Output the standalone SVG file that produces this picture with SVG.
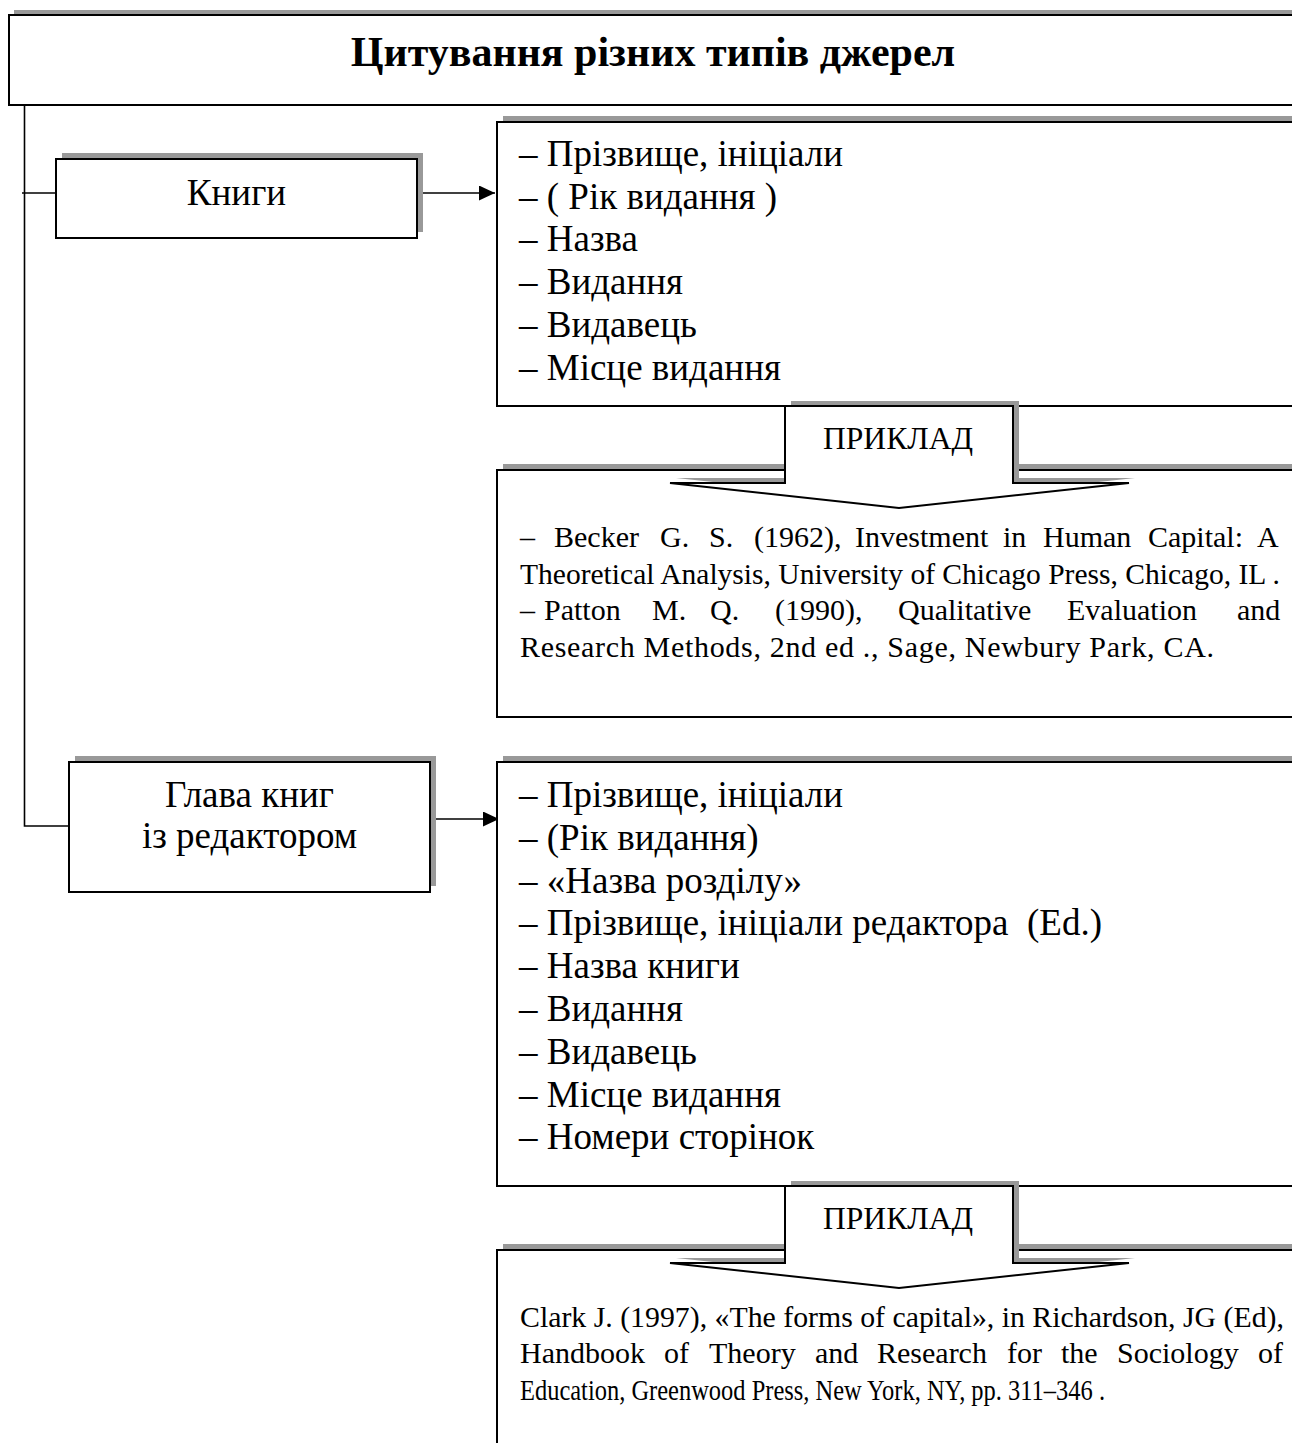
<svg xmlns="http://www.w3.org/2000/svg" width="1292" height="1443" viewBox="0 0 1292 1443">
<style>
.bg{fill:#fff}
.box{fill:#fff;stroke:#000;stroke-width:2}
.sh{fill:#999}
.ln{fill:none;stroke:#000;stroke-width:1.6}
.t{font-family:"Liberation Serif","Times New Roman",serif;fill:#000}
.ttl{font-size:42px;font-weight:bold;text-anchor:middle}
.nd{font-size:37px;text-anchor:middle}
.li{font-size:37px}
.ex{font-size:30px}
.pr{font-size:31px;text-anchor:middle}
</style>
<defs>
<marker id="ah" markerWidth="16" markerHeight="15" refX="16" refY="7.5" orient="auto" markerUnits="userSpaceOnUse"><path d="M0,0 L16,7.5 L0,15 Z" fill="#000"/></marker>
<path id="callout" d="M785,406 L1013,406 L1013,483 L1129,483 L899,508 L670,483 L785,483 Z"/>
</defs>
<rect class="bg" x="0" y="0" width="1292" height="1443"/>

<g id="title">
<rect class="sh" x="14" y="10" width="1300" height="90"/>
<rect class="box" x="9" y="15" width="1300" height="90"/>
<text class="t ttl" x="653" y="66">Цитування різних типів джерел</text>
</g>

<g id="connectors">
<polyline class="ln" points="24.5,105 24.5,826 69,826"/>
<line class="ln" x1="22" y1="193" x2="56" y2="193"/>
<line class="ln" x1="417" y1="193" x2="495" y2="193" stroke-width="2" marker-end="url(#ah)"/>
<line class="ln" x1="430" y1="819" x2="499" y2="819" stroke-width="2" marker-end="url(#ah)"/>
</g>

<g id="node-books">
<rect class="sh" x="62" y="153" width="361" height="79"/>
<rect class="box" x="56" y="159" width="361" height="79"/>
<text class="t nd" x="236.5" y="205">Книги</text>
</g>

<g id="node-chapter">
<rect class="sh" x="75" y="756" width="361" height="130"/>
<rect class="box" x="69" y="762" width="361" height="130"/>
<text class="t nd" x="249.5" y="807">Глава книг</text>
<text class="t nd" x="249.5" y="848">із редактором</text>
</g>

<g id="list-books">
<rect class="sh" x="503" y="116" width="810" height="284"/>
<rect class="box" x="497" y="122" width="810" height="284"/>
<text class="t li" x="519" y="166">– Прізвище, ініціали</text>
<text class="t li" x="519" y="208.7">– ( Рік видання )</text>
<text class="t li" x="519" y="251.4">– Назва</text>
<text class="t li" x="519" y="294.1">– Видання</text>
<text class="t li" x="519" y="336.8">– Видавець</text>
<text class="t li" x="519" y="379.5">– Місце видання</text>
</g>

<g id="example-books">
<rect class="sh" x="503" y="464" width="810" height="247"/>
<rect class="box" x="497" y="470" width="810" height="247"/>
<text class="t ex" y="547"><tspan x="520">–</tspan><tspan x="554">Becker</tspan><tspan x="660">G.</tspan><tspan x="709">S.</tspan><tspan x="754">(1962),</tspan><tspan x="855">Investment</tspan><tspan x="1003">in</tspan><tspan x="1043">Human</tspan><tspan x="1148">Capital:</tspan><tspan x="1257">A</tspan></text>
<text class="t ex" x="520" y="583.5" textLength="760" lengthAdjust="spacingAndGlyphs">Theoretical Analysis, University of Chicago Press, Chicago, IL .</text>
<text class="t ex" y="620"><tspan x="520">–</tspan><tspan x="544">Patton</tspan><tspan x="652">M.</tspan><tspan x="710">Q.</tspan><tspan x="775">(1990),</tspan><tspan x="898">Qualitative</tspan><tspan x="1067">Evaluation</tspan><tspan x="1237">and</tspan></text>
<text class="t ex" x="520" y="656.5" textLength="694" lengthAdjust="spacing">Research Methods, 2nd ed ., Sage, Newbury Park, CA.</text>
</g>

<g id="callout-books">
<use href="#callout" class="sh" transform="translate(6,-5)"/>
<use href="#callout" class="box"/>
<text class="t pr" x="898" y="449" textLength="150" lengthAdjust="spacingAndGlyphs">ПРИКЛАД</text>
</g>

<g id="list-chapter">
<rect class="sh" x="503" y="756" width="810" height="424"/>
<rect class="box" x="497" y="762" width="810" height="424"/>
<text class="t li" x="519" y="807">– Прізвище, ініціали</text>
<text class="t li" x="519" y="849.8">– (Рік видання)</text>
<text class="t li" x="519" y="892.6">– «Назва розділу»</text>
<text class="t li" x="519" y="935.4">– Прізвище, ініціали редактора &#160;(Ed.)</text>
<text class="t li" x="519" y="978.2">– Назва книги</text>
<text class="t li" x="519" y="1021">– Видання</text>
<text class="t li" x="519" y="1063.8">– Видавець</text>
<text class="t li" x="519" y="1106.6">– Місце видання</text>
<text class="t li" x="519" y="1149.4">– Номери сторінок</text>
</g>

<g id="example-chapter">
<rect class="sh" x="503" y="1244" width="810" height="260"/>
<rect class="box" x="497" y="1250" width="810" height="260"/>
<text class="t ex" x="520" y="1326.5" textLength="764" lengthAdjust="spacingAndGlyphs">Clark J. (1997), «The forms of capital», in Richardson, JG (Ed),</text>
<text class="t ex" y="1363"><tspan x="520">Handbook</tspan><tspan x="664">of</tspan><tspan x="709">Theory</tspan><tspan x="815">and</tspan><tspan x="877">Research</tspan><tspan x="1007">for</tspan><tspan x="1061">the</tspan><tspan x="1117">Sociology</tspan><tspan x="1258">of</tspan></text>
<text class="t ex" x="520" y="1399.5" textLength="585" lengthAdjust="spacingAndGlyphs">Education, Greenwood Press, New York, NY, pp. 311–346 .</text>
</g>

<g id="callout-chapter" transform="translate(0,780)">
<use href="#callout" class="sh" transform="translate(6,-5)"/>
<use href="#callout" class="box"/>
<text class="t pr" x="898" y="449" textLength="150" lengthAdjust="spacingAndGlyphs">ПРИКЛАД</text>
</g>
</svg>
